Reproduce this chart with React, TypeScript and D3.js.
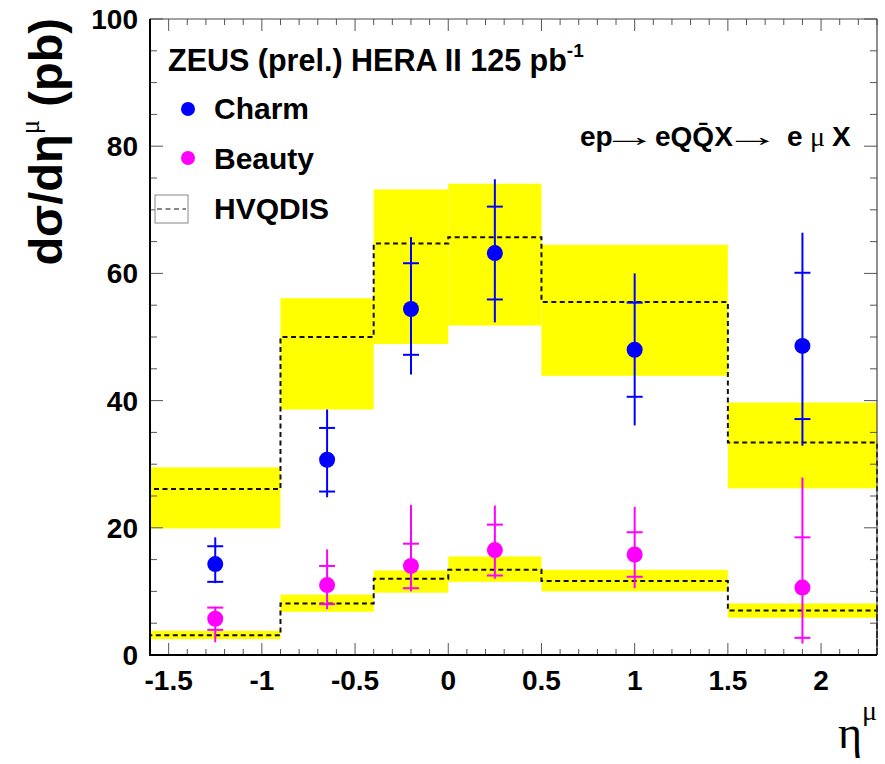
import React from 'react';
import * as d3 from 'd3';

// Bin edges and measured points in eta^mu
const binEdges = [-1.6, -0.9, -0.4, 0, 0.5, 1.5, 2.3];
const etaPoints = [-1.25, -0.65, -0.2, 0.25, 1.0, 1.9];

// Charm: cross section, statistical error, total error (up / down)
const charmXsec = [14.3, 30.7, 54.4, 63.2, 48.0, 48.6];
const charmStat = [2.8, 5.0, 7.2, 7.3, 7.4, 11.5];
const charmTotUp = [4.2, 7.9, 11.3, 11.6, 12.0, 17.8];
const charmTotDown = [3.0, 5.9, 10.3, 10.9, 11.9, 15.7];

// Beauty: cross section, statistical error, total error (up / down)
const beautyXsec = [5.7, 11.0, 14.0, 16.5, 15.8, 10.6];
const beautyStat = [1.75, 3.0, 3.5, 4.0, 3.5, 7.9];
const beautyTotUp = [1.9, 5.6, 9.6, 7.0, 7.5, 17.3];
const beautyTotDown = [3.7, 3.8, 4.0, 4.5, 5.3, 8.8];

// HVQDIS predictions with uncertainty bands
const hvqCharm = [26.1, 50.0, 64.7, 65.7, 55.5, 33.4];
const hvqCharmLow = [19.9, 38.6, 48.9, 51.8, 43.9, 26.2];
const hvqCharmHigh = [29.5, 56.1, 73.2, 74.1, 64.5, 39.7];
const hvqBeauty = [3.1, 8.1, 12.0, 13.4, 11.65, 7.0];
const hvqBeautyLow = [2.5, 6.8, 9.8, 11.5, 10.0, 5.85];
const hvqBeautyHigh = [3.8, 9.5, 13.3, 15.5, 13.4, 8.1];

const W = 885;
const H = 764;
const left = 150;
const right = 877;
const top = 19;
const bottom = 655;

const SANS = '"Liberation Sans", Arial, Helvetica, sans-serif';
const SERIF = '"Liberation Serif", "DejaVu Serif", serif';

const x = d3.scaleLinear().domain([-1.6, 2.3]).range([left, right]);
const y = d3.scaleLinear().domain([0, 100]).range([bottom, top]);

const BLUE = '#0000ff';
const MAGENTA = '#ff00ff';
const YELLOW = '#ffff00';

function histPath(vals: number[]): string {
  const pts: [number, number][] = [[binEdges[0], 0]];
  vals.forEach((v, i) => {
    pts.push([binEdges[i], v]);
    pts.push([binEdges[i + 1], v]);
  });
  pts.push([binEdges[binEdges.length - 1], 0]);
  const line = d3
    .line<[number, number]>()
    .x((d) => x(d[0]))
    .y((d) => y(d[1]));
  return line(pts) || '';
}

function Band({ low, high }: { low: number[]; high: number[] }) {
  return (
    <g>
      {low.map((lo, i) => (
        <rect
          key={i}
          x={x(binEdges[i])}
          width={x(binEdges[i + 1]) - x(binEdges[i])}
          y={y(high[i])}
          height={y(lo) - y(high[i])}
          fill={YELLOW}
        />
      ))}
    </g>
  );
}

function Points({
  vals,
  stat,
  up,
  down,
  color,
}: {
  vals: number[];
  stat: number[];
  up: number[];
  down: number[];
  color: string;
}) {
  return (
    <g>
      {vals.map((v, i) => {
        const cx = x(etaPoints[i]);
        return (
          <g key={i} stroke={color} strokeWidth={2}>
            <line x1={cx} x2={cx} y1={y(v + up[i])} y2={y(Math.max(0, v - down[i]))} />
            <line x1={cx - 8} x2={cx + 8} y1={y(v + stat[i])} y2={y(v + stat[i])} />
            <line x1={cx - 8} x2={cx + 8} y1={y(v - stat[i])} y2={y(v - stat[i])} />
            <circle cx={cx} cy={y(v)} r={8} fill={color} stroke="none" />
          </g>
        );
      })}
    </g>
  );
}

function isMultiple(v: number, step: number) {
  return Math.abs(v / step - Math.round(v / step)) < 1e-6;
}

function Frame() {
  const xMinor = x.ticks(40);
  const yMinor = y.ticks(20);
  const tickColor = '#555';
  return (
    <g>
      {/* x ticks, bottom and top */}
      {xMinor.map((t, i) => {
        const len = isMultiple(t, 0.5) ? 12 : 6;
        const px = x(t);
        return (
          <g key={'x' + i} stroke={tickColor} strokeWidth={1}>
            <line x1={px} x2={px} y1={bottom} y2={bottom - len} />
            <line x1={px} x2={px} y1={top} y2={top + len} />
          </g>
        );
      })}
      {/* y ticks, left and right */}
      {yMinor.map((t, i) => {
        const len = isMultiple(t, 20) ? 13 : 7;
        const py = y(t);
        return (
          <g key={'y' + i} stroke={tickColor} strokeWidth={1}>
            <line x1={left} x2={left + len} y1={py} y2={py} />
            <line x1={right} x2={right - len} y1={py} y2={py} />
          </g>
        );
      })}
      <line x1={left} x2={right} y1={top} y2={top} stroke="#444" strokeWidth={1.2} />
      <line x1={right} x2={right} y1={top} y2={bottom} stroke="#444" strokeWidth={1.2} />
      <line x1={left} x2={left} y1={top} y2={bottom + 1} stroke="#000" strokeWidth={2} />
      <line x1={left - 1} x2={right} y1={bottom} y2={bottom} stroke="#000" strokeWidth={2} />
      {/* tick labels */}
      {x.ticks(8).map((t, i) => (
        <text
          key={'xl' + i}
          x={x(t)}
          y={690}
          textAnchor="middle"
          fontFamily={SANS}
          fontWeight="bold"
          fontSize={28}
        >
          {String(t)}
        </text>
      ))}
      {y.ticks(5).map((t, i) => (
        <text
          key={'yl' + i}
          x={138}
          y={y(t) + 10}
          textAnchor="end"
          fontFamily={SANS}
          fontWeight="bold"
          fontSize={28}
        >
          {String(t)}
        </text>
      ))}
    </g>
  );
}

// Horizontally stretched arrow glyph
function Arrow({ x0, baseline }: { x0: number; baseline: number }) {
  return (
    <text
      transform={`translate(${x0},${baseline}) scale(2,1)`}
      fontFamily={SERIF}
      fontSize={28}
    >
      →
    </text>
  );
}

export default function App() {
  return (
    <svg
      width={W}
      height={H}
      viewBox={`0 0 ${W} ${H}`}
      style={{ position: 'absolute', left: 0, top: 0, background: '#fff' }}
    >
      <rect width={W} height={H} fill="#fff" />
      <Band low={hvqCharmLow} high={hvqCharmHigh} />
      <Band low={hvqBeautyLow} high={hvqBeautyHigh} />
      <g fill="none" stroke="#111" strokeWidth={2} strokeDasharray="5 3.5">
        <path d={histPath(hvqCharm)} />
        <path d={histPath(hvqBeauty)} />
      </g>
      <Frame />
      <Points vals={charmXsec} stat={charmStat} up={charmTotUp} down={charmTotDown} color={BLUE} />
      <Points vals={beautyXsec} stat={beautyStat} up={beautyTotUp} down={beautyTotDown} color={MAGENTA} />

      {/* legend */}
      <text x={168} y={71} fontFamily={SANS} fontWeight="bold" fontSize={30.5}>
        ZEUS (prel.) HERA II 125 pb
        <tspan fontSize={19} dy={-14}>-1</tspan>
      </text>
      <circle cx={188} cy={109} r={7} fill={BLUE} />
      <text x={214} y={119} fontFamily={SANS} fontWeight="bold" fontSize={30}>
        Charm
      </text>
      <circle cx={188} cy={158} r={7} fill={MAGENTA} />
      <text x={214} y={169} fontFamily={SANS} fontWeight="bold" fontSize={30}>
        Beauty
      </text>
      <rect x={155} y={195} width={33} height={28} fill="#fff" stroke="#888" strokeWidth={1} />
      <line x1={157} x2={186} y1={209} y2={209} stroke="#111" strokeWidth={1.2} strokeDasharray="5 3.5" />
      <text x={214} y={219} fontFamily={SANS} fontWeight="bold" fontSize={30}>
        HVQDIS
      </text>

      {/* process label */}
      <text y={146} fontSize={28} fontFamily={SANS} fontWeight="bold">
        <tspan x={580}>ep</tspan>
        <tspan x={655}>eQQ̄X</tspan>
        <tspan x={787}>e</tspan>
        <tspan x={810} fontFamily={SERIF} fontWeight="normal">μ</tspan>
        <tspan x={832}>X</tspan>
      </text>
      <Arrow x0={601} baseline={146} />
      <Arrow x0={724} baseline={146} />

      {/* axis titles */}
      <text
        transform="translate(62,18) rotate(-90)"
        textAnchor="end"
        fontFamily={SANS}
        fontWeight="bold"
        fontSize={47}
      >
        dσ/dη
        <tspan fontFamily={SERIF} fontWeight="normal" fontSize={27} dy={-23}>μ</tspan>
        <tspan dy={23}> (pb)</tspan>
      </text>
      <text x={877} y={748} textAnchor="end" fontFamily={SERIF}>
        <tspan fontSize={46}>η</tspan>
        <tspan fontSize={28} dy={-28}>μ</tspan>
      </text>
    </svg>
  );
}
